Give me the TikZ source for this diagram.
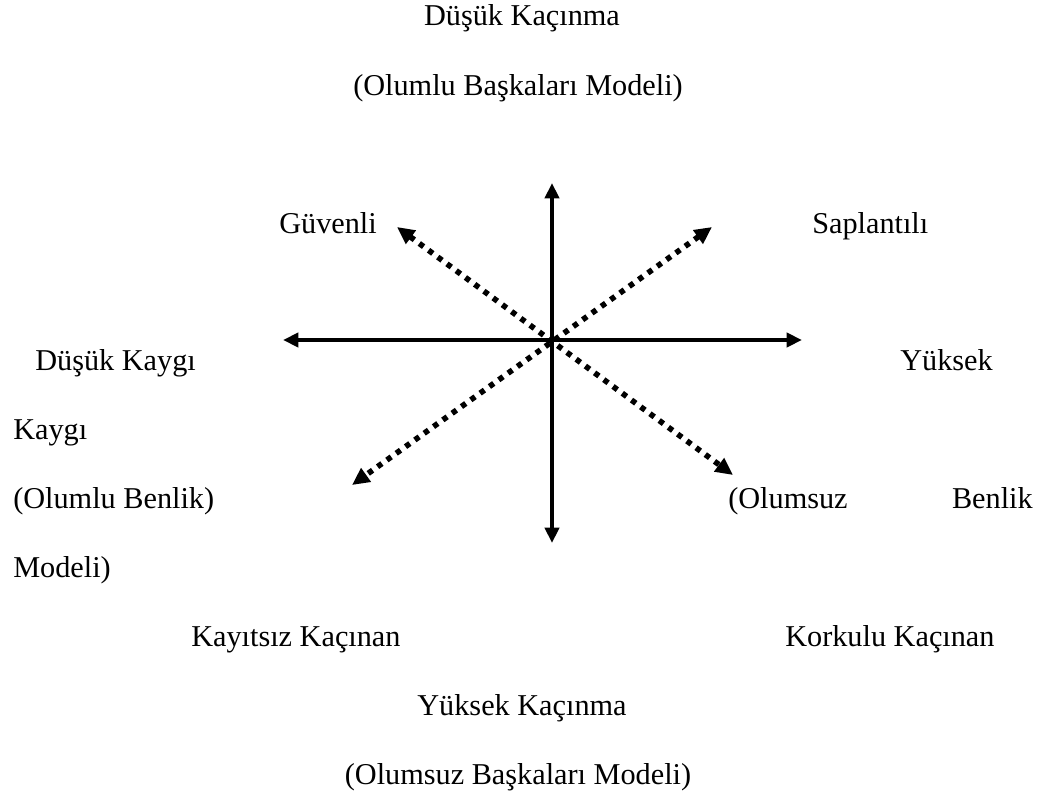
\documentclass[tikz,border=0pt]{standalone}
\usepackage{fontspec}
\setmainfont{Liberation Serif}
\usetikzlibrary{arrows.meta}
\begin{document}
\begin{tikzpicture}[x=0.75pt,y=-0.75pt,
  lbl/.style={inner sep=0pt,font=\fontsize{22.7}{26}\selectfont},
  axis/.style={line width=3.3pt,{Triangle[length=11.5pt,width=10.5pt]}-{Triangle[length=11.5pt,width=10.5pt]}},
  diag/.style={line width=4.2pt,dash pattern=on 4pt off 4.6pt,{Triangle[length=13pt,width=12pt]}-{Triangle[length=13pt,width=12pt]}}]
\useasboundingbox (0,0) rectangle (1042,799);
% text
\node[lbl,anchor=base] (top1) at (522,26) {Düşük Kaçınma};
\node[lbl,anchor=base] (top2) at (518,95) {(Olumlu Başkaları Modeli)};
\node[lbl,anchor=base west] (guv) at (279,233) {Güvenli};
\node[lbl,anchor=base west] (sap) at (812,233) {Saplantılı};
\node[lbl,anchor=base west] (dk) at (35,370) {Düşük Kaygı};
\node[lbl,anchor=base west] (yk) at (900,370) {Yüksek};
\node[lbl,anchor=base west] (ky) at (13,439) {Kaygı};
\node[lbl,anchor=base west] (ob) at (13,508) {(Olumlu Benlik)};
\node[lbl,anchor=base west] (os) at (728,508) {(Olumsuz};
\node[lbl,anchor=base east] (bn) at (1033,508) {Benlik};
\node[lbl,anchor=base west] (md) at (13,577) {Modeli)};
\node[lbl,anchor=base west] (kk) at (191,646) {Kayıtsız Kaçınan};
\node[lbl,anchor=base west] (kok) at (785,646) {Korkulu Kaçınan};
\node[lbl,anchor=base] (bot1) at (522,715) {Yüksek Kaçınma};
\node[lbl,anchor=base] (bot2) at (518,784) {(Olumsuz Başkaları Modeli)};
% arrows
\coordinate (c) at (552,340);
\coordinate (up) at (552,183);
\coordinate (dn) at (552,543);
\coordinate (lf) at (283,340);
\coordinate (rt) at (802,340);
\coordinate (ul) at (397,227);
\coordinate (lr) at (733,475);
\coordinate (ur) at (712,227);
\coordinate (ll) at (352,485);
\draw[axis] (up) -- (dn);
\draw[axis] (lf) -- (rt);
\draw[diag] (ul) -- (lr);
\draw[diag] (ur) -- (ll);
\end{tikzpicture}
\end{document}
